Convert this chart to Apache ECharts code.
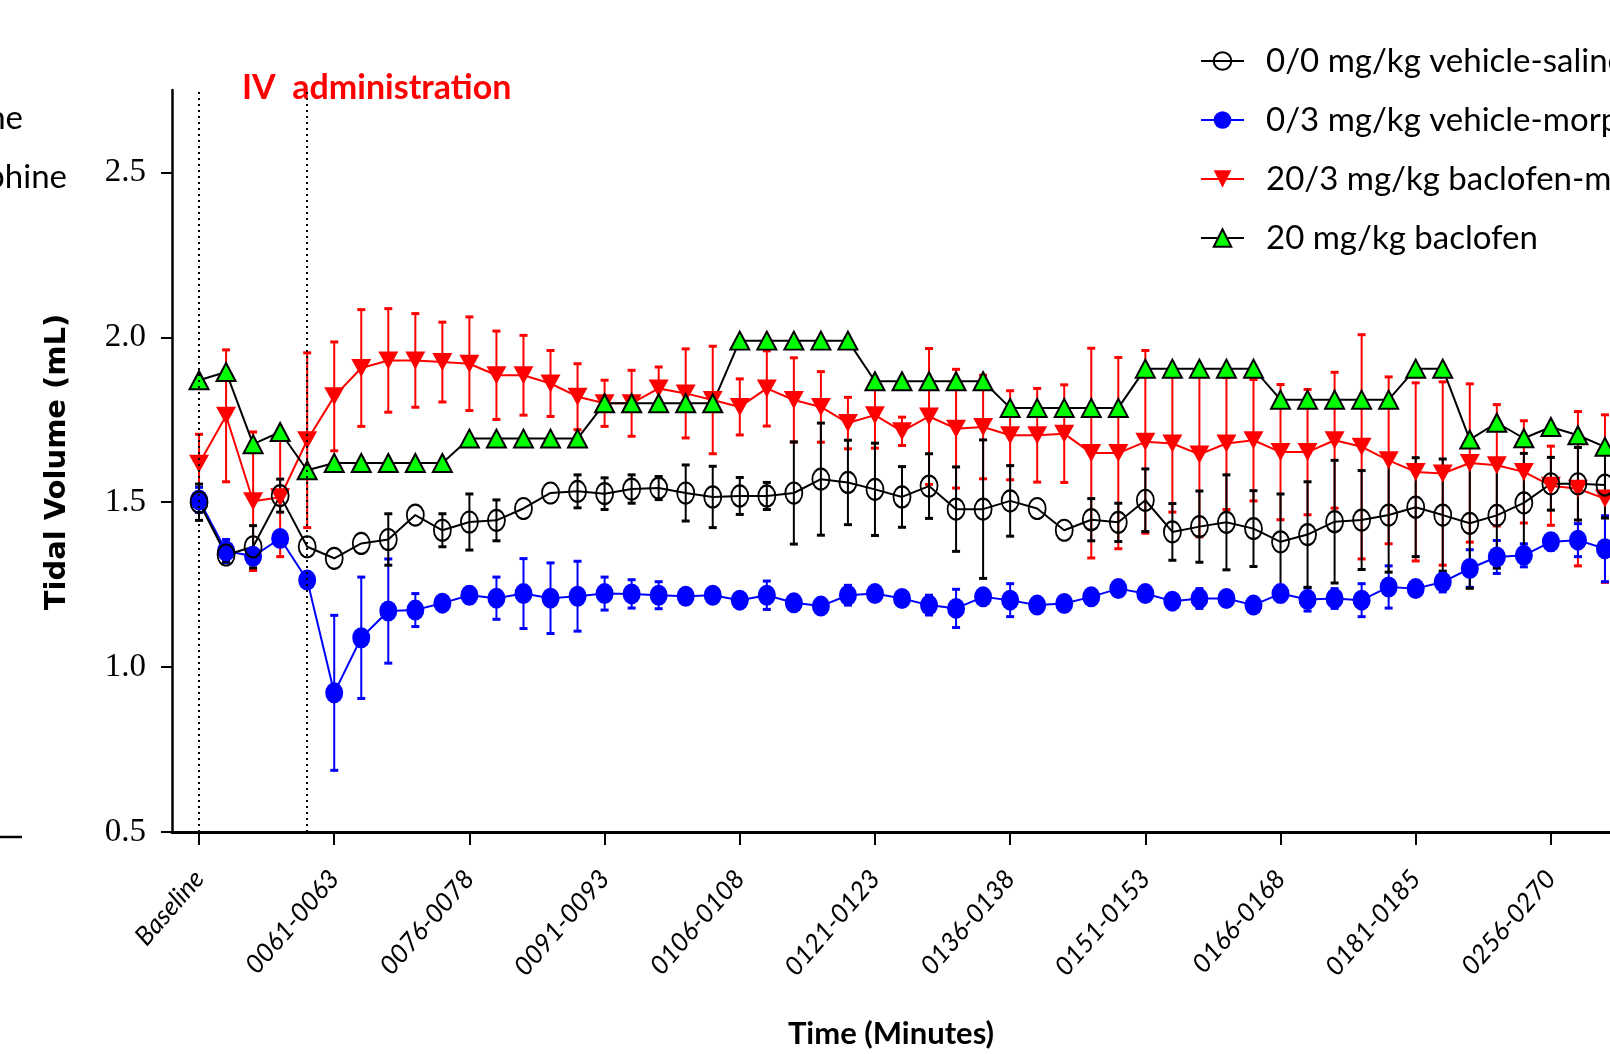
<!DOCTYPE html>
<html><head><meta charset="utf-8">
<script src="https://cdn.jsdelivr.net/npm/echarts@6/dist/echarts.min.js"></script>
<style>html,body{margin:0;padding:0;background:#fff}#c{width:1610px;height:1054px}</style>
</head><body><div id="c"></div>
<script>
// ---- data ----
const tickPositions = [0, 5, 10, 15, 20, 25, 30, 35, 40, 45, 50];
const tickLabels = ['Baseline', '0061-0063', '0076-0078', '0091-0093', '0106-0108', '0121-0123',
  '0136-0138', '0151-0153', '0166-0168', '0181-0185', '0256-0270'];
const yTicks = [0.5, 1.0, 1.5, 2.0, 2.5];
const ivLines = [0, 4];

const seriesNames = ['0/0 mg/kg vehicle-saline', '0/3 mg/kg vehicle-morphine',
  '20/3 mg/kg baclofen-morphine', '20 mg/kg baclofen'];

const salineMean = [1.50, 1.34, 1.365, 1.52, 1.365, 1.33, 1.375, 1.387, 1.461, 1.415,
  1.44, 1.445, 1.481, 1.528, 1.533, 1.526, 1.54, 1.543, 1.528, 1.516,
  1.519, 1.519, 1.528, 1.57, 1.56, 1.539, 1.516, 1.549, 1.479, 1.479,
  1.504, 1.481, 1.415, 1.447, 1.439, 1.506, 1.41, 1.426, 1.439, 1.42,
  1.38, 1.402, 1.441, 1.446, 1.461, 1.485, 1.461, 1.436, 1.46, 1.498,
  1.556, 1.556, 1.552];
const salineSEM = [0.055, 0.02, 0.064, 0.05, 0, 0, 0, 0.078, 0, 0.05,
  0.085, 0.062, 0, 0, 0.05, 0.048, 0.043, 0.035, 0.085, 0.093,
  0.056, 0.041, 0.155, 0.17, 0.128, 0.14, 0.092, 0.098, 0.128, 0.21,
  0.107, 0, 0, 0.064, 0.058, 0.095, 0.086, 0.108, 0.144, 0.115,
  0.145, 0.16, 0.186, 0.15, 0.173, 0.15, 0.17, 0.197, 0.16, 0.15,
  0.08, 0.11, 0.1];

const morphineMean = [1.507, 1.352, 1.336, 1.39, 1.264, 0.922, 1.089, 1.17, 1.173, 1.194,
  1.218, 1.209, 1.223, 1.209, 1.215, 1.223, 1.222, 1.218, 1.215, 1.218,
  1.203, 1.218, 1.195, 1.185, 1.218, 1.223, 1.208, 1.188, 1.178, 1.213,
  1.203, 1.188, 1.193, 1.213, 1.238, 1.223, 1.2, 1.208, 1.208, 1.188,
  1.223, 1.205, 1.208, 1.203, 1.243, 1.238, 1.258, 1.299, 1.334, 1.339,
  1.38, 1.385, 1.359];
const morphineSEM = [0.038, 0.035, 0.02, 0, 0, 0.235, 0.184, 0.158, 0.05, 0,
  0.025, 0.064, 0.106, 0.107, 0.106, 0.05, 0.043, 0.041, 0, 0,
  0, 0.043, 0, 0, 0.03, 0, 0, 0.03, 0.058, 0,
  0.05, 0, 0, 0, 0, 0, 0, 0.03, 0, 0,
  0.025, 0.035, 0.03, 0.05, 0.064, 0, 0.03, 0.057, 0.05, 0.035,
  0.025, 0.05, 0.1];

const bacMorMean = [1.617, 1.762, 1.503, 1.515, 1.688, 1.821, 1.907, 1.93, 1.93, 1.925,
  1.92, 1.885, 1.885, 1.86, 1.82, 1.80, 1.80, 1.845, 1.83, 1.81,
  1.789, 1.845, 1.81, 1.789, 1.74, 1.764, 1.715, 1.76, 1.723, 1.728,
  1.703, 1.703, 1.708, 1.649, 1.649, 1.683, 1.678, 1.645, 1.678, 1.688,
  1.652, 1.652, 1.688, 1.668, 1.627, 1.592, 1.587, 1.619, 1.612, 1.592,
  1.55, 1.541, 1.511];
const bacMorSEM = [0.089, 0.2, 0.21, 0.18, 0.265, 0.165, 0.177, 0.157, 0.142, 0.121,
  0.142, 0.134, 0.121, 0.1, 0.1, 0.07, 0.1, 0.065, 0.135, 0.163,
  0.085, 0.114, 0.128, 0.107, 0.078, 0.1, 0.043, 0.206, 0.18, 0.157,
  0.135, 0.142, 0.148, 0.318, 0.29, 0.277, 0.208, 0.25, 0.2, 0.184,
  0.205, 0.19, 0.206, 0.34, 0.253, 0.27, 0.278, 0.24, 0.184, 0.155,
  0.12, 0.234, 0.254];

const baclofenMean = [1.87, 1.895, 1.676, 1.713, 1.597, 1.619, 1.619, 1.619, 1.619, 1.619,
  1.693, 1.693, 1.693, 1.693, 1.693, 1.80, 1.80, 1.80, 1.80, 1.80,
  1.99, 1.99, 1.99, 1.99, 1.99, 1.867, 1.867, 1.867, 1.867, 1.867,
  1.786, 1.786, 1.786, 1.786, 1.786, 1.905, 1.905, 1.905, 1.905, 1.905,
  1.811, 1.811, 1.811, 1.811, 1.811, 1.905, 1.905, 1.69, 1.741, 1.694,
  1.728, 1.703, 1.668];

// ---- chart ----
const pts = arr => arr.map((v, i) => [i, v]);
const errPts = (m, e) => m.map((v, i) => [i, v, e[i]]);

function errRender(color) {
  return function (params, api) {
    const x = api.value(0), m = api.value(1), e = api.value(2);
    if (!e) return null;
    const top = api.coord([x, m + e]), bot = api.coord([x, m - e]);
    const hw = 4;
    return {
      type: 'group', children: [
        { type: 'line', shape: { x1: top[0], y1: top[1], x2: bot[0], y2: bot[1] }, style: { stroke: color, lineWidth: 2 } },
        { type: 'line', shape: { x1: top[0] - hw, y1: top[1], x2: top[0] + hw, y2: top[1] }, style: { stroke: color, lineWidth: 3 } },
        { type: 'line', shape: { x1: bot[0] - hw, y1: bot[1], x2: bot[0] + hw, y2: bot[1] }, style: { stroke: color, lineWidth: 3 } }
      ]
    };
  };
}
function errSeries(m, e, color) {
  return {
    type: 'custom', data: errPts(m, e), renderItem: errRender(color),
    encode: { x: 0, y: 1 }, silent: true, z: 2
  };
}

const chart = echarts.init(document.getElementById('c'), null, { renderer: 'canvas' });
const option = {
  animation: false,
  backgroundColor: '#ffffff',
  grid: { left: 172, top: 90, right: -22, bottom: 222, containLabel: false, outerBoundsMode: 'none' },
  xAxis: {
    type: 'value', min: -1, max: 53,
    splitLine: { show: false },
    axisLine: { show: true, onZero: false, lineStyle: { color: '#000', width: 3 } },
    axisTick: { show: true, inside: false, length: 13, customValues: tickPositions, lineStyle: { color: '#000', width: 2 } },
    axisLabel: {
      show: true, customValues: tickPositions, rotate: 49, margin: 42,
      formatter: v => tickLabels[tickPositions.indexOf(Math.round(v))] || '',
      color: '#000', fontFamily: 'Lato', fontStyle: 'italic', fontSize: 26
    }
  },
  yAxis: {
    type: 'value', min: 0.5, max: 2.75,
    splitLine: { show: false },
    axisLine: { show: true, onZero: false, lineStyle: { color: '#000', width: 2.5 } },
    axisTick: { show: true, inside: false, length: 11, customValues: yTicks, lineStyle: { color: '#000', width: 2 } },
    axisLabel: {
      show: true, customValues: yTicks, margin: 26,
      formatter: v => Number(v).toFixed(1),
      color: '#000', fontFamily: 'Liberation Serif', fontSize: 33
    }
  },
  legend: {
    orient: 'vertical', left: 1200, top: 41, padding: 0,
    itemWidth: 43, itemHeight: 22, itemGap: 19,
    data: seriesNames,
    selectedMode: false,
    textStyle: { color: '#000', fontFamily: 'Lato', fontSize: 33, lineHeight: 40, padding: [0, 0, 0, 17] }
  },
  series: [
    errSeries(bacMorMean, bacMorSEM, '#ff0000'),
    {
      name: seriesNames[2], type: 'line', data: pts(bacMorMean),
      symbol: 'triangle', symbolRotate: 180, symbolSize: [20, 18],
      lineStyle: { color: '#ff0000', width: 2 },
      itemStyle: { color: '#ff0000', borderWidth: 0 },
      markLine: {
        silent: true, symbol: ['none', 'none'], label: { show: false },
        lineStyle: { color: '#000', type: [2, 4], width: 2 },
        emphasis: { disabled: true },
        data: ivLines.map(v => ({ xAxis: v }))
      }
    },
    errSeries(morphineMean, morphineSEM, '#0000ff'),
    {
      name: seriesNames[1], type: 'line', data: pts(morphineMean),
      symbol: 'circle', symbolSize: [18, 21],
      lineStyle: { color: '#0000ff', width: 2 },
      itemStyle: { color: '#0000ff', borderWidth: 0 }
    },
    errSeries(salineMean, salineSEM, '#000000'),
    {
      name: seriesNames[0], type: 'line', data: pts(salineMean),
      symbol: 'circle', symbolSize: [17, 21],
      lineStyle: { color: '#000', width: 2 },
      itemStyle: { color: 'rgba(255,255,255,0)', borderColor: '#000', borderWidth: 2 }
    },
    {
      name: seriesNames[3], type: 'line', data: pts(baclofenMean),
      symbol: 'triangle', symbolSize: [19, 18],
      lineStyle: { color: '#000', width: 2 },
      itemStyle: { color: '#00ff00', borderColor: '#000', borderWidth: 2 }
    }
  ],
  graphic: [
    { type: 'text', x: 242, y: 88, style: { text: 'IV  administration', fill: '#ff0000', font: 'bold 34px Lato', align: 'left', verticalAlign: 'middle', textAlign: 'left', textVerticalAlign: 'middle' } },
    { type: 'text', x: 57, y: 462, rotation: Math.PI / 2, style: { text: 'Tidal Volume (mL)', fill: '#000', font: 'bold 29px "DejaVu Sans"', align: 'center', verticalAlign: 'middle', textAlign: 'center', textVerticalAlign: 'middle' } },
    { type: 'text', x: 891, y: 1034, style: { text: 'Time (Minutes)', fill: '#000', font: 'bold 31px Lato', align: 'center', verticalAlign: 'middle', textAlign: 'center', textVerticalAlign: 'middle' } },
    { type: 'text', x: 23, y: 118, style: { text: '0/0 mg/kg vehicle-saline', fill: '#000', font: '33px Lato', align: 'right', verticalAlign: 'middle', textAlign: 'right', textVerticalAlign: 'middle' } },
    { type: 'text', x: 67, y: 177, style: { text: '0/3 mg/kg vehicle-morphine', fill: '#000', font: '33px Lato', align: 'right', verticalAlign: 'middle', textAlign: 'right', textVerticalAlign: 'middle' } },
    { type: 'line', shape: { x1: 0, y1: 837, x2: 22, y2: 837 }, style: { stroke: '#000', lineWidth: 2.5 } }
  ]
};
chart.setOption(option);
</script>
</body></html>
